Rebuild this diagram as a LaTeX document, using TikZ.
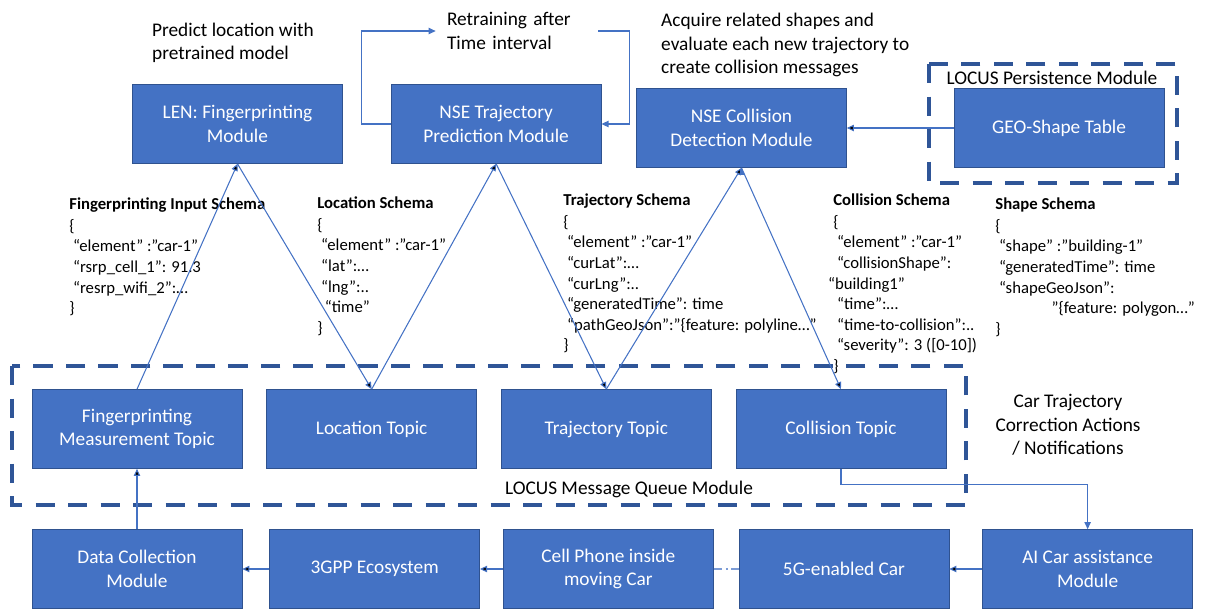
\documentclass[tikz,border=0pt]{standalone}
\usepackage{fontspec}
\setmainfont{Carlito}
\usetikzlibrary{arrows.meta, positioning}

\definecolor{boxblue}{HTML}{4472C4}
\definecolor{boxedge}{HTML}{2F528F}
\definecolor{dashblue}{HTML}{2F5597}

\tikzset{
    module/.style={draw=boxedge,
        fill=boxblue,
        text=white,
        align=center,
        minimum width=4.2cm,
        minimum height=1.58cm,
        inner sep=0,
        font=\fontsize{11}{13.4}\selectfont},
    conn/.style={draw=boxblue, line width=0.6pt,
        -{Triangle[length=4pt,width=3.6pt]}},
    groupbox/.style={draw=dashblue, line width=2.2pt,
        dash pattern=on 11pt off 7.5pt},
    note/.style={align=left, font=\fontsize{11}{13.4}\selectfont},
    schema/.style={align=left, anchor=north west, inner sep=0,
        font=\fontsize{9.5}{11.7}\selectfont}
}

\begin{document}
\begin{tikzpicture}[x=0.02cm, y=-0.02cm]
\useasboundingbox (0,0) rectangle (1211,610);

% dashed module frames
\draw[groupbox] (929,64) rectangle (1177,183);
\draw[groupbox] (12,366) rectangle (966,505);

% upper row
\node[module] (len) at (237.5,124) {LEN: Fingerprinting\\Module};
\node[module,
    right=0.96cm of len] (trajmod) {NSE Trajectory\\Prediction Module};
\node[module] (collmod) at (741.5,128) {NSE Collision\\Detection Module};
\node[module,
    right=2.14cm of collmod] (geo) {GEO-Shape Table};

% topics
\node[module] (fptopic) at (137,429) {Fingerprinting\\Measurement Topic};
\node[module,
    right=0.48cm of fptopic] (loctopic) {Location Topic};
\node[module,
    right=0.48cm of loctopic] (trajtopic) {Trajectory Topic};
\node[module,
    right=0.48cm of trajtopic] (colltopic) {Collision Topic};

% lower row
\node[module] (datacoll) at (137,569) {Data Collection\\Module};
\node[module,
    right=0.54cm of datacoll] (gpp) {3GPP Ecosystem};
\node[module,
    right=0.46cm of gpp] (phone) {Cell Phone inside\\moving Car};
\node[module,
    right=0.5cm of phone] (car) {5G-enabled Car};
\node[module,
    right=0.66cm of car] (assist) {AI Car assistance\\Module};

% notes
\node[note] (predict) at (233,43) {Predict location with\\pretrained model};
\node[note,
    text width=2.8cm,
    inner sep=0.22cm] (retrain) at (517,31) {Retraining after\\Time interval};
\node[note,
    anchor=west] (acquire) at (655,45) {Acquire related shapes and\\evaluate each new trajectory to\\create collision messages};
\node[note] (persistlbl) at (1052,78) {LOCUS Persistence Module};
\node[note] (queuelbl) at (629,489) {LOCUS Message Queue Module};
\node[note,
    align=center] (actions) at (1068,425) {Car Trajectory\\Correction Actions\\/ Notifications};

% schemas
\node[schema] (fpschema) at (69,197) {\textbf{Fingerprinting Input Schema}\\[1pt]
    \{\\~“element” :”car-1”\\~“rsrp\_cell\_1”: 91.3\\~“resrp\_wifi\_2”:…\\\}};
\node[schema] (locschema) at (317,196) {\textbf{Location Schema}\\[1pt]
    \{\\~“element” :”car-1”\\~“lat”:…\\~“lng”:..\\~~“time”\\\}};
\node[schema] (trajschema) at (563,193) {\textbf{Trajectory Schema}\\[1pt]
    \{\\~“element” :”car-1”\\~“curLat”:…\\~“curLng”:..\\~“generatedTime”: time\\
    ~“pathGeoJson”:”\{feature: polyline…”\\\}};
\node[schema] (collschema) at (833,193) {\textbf{Collision Schema}\\[1pt]
    \{\\~“element” :”car-1”\\~“collisionShape”:\\\hspace*{-3pt}“building1”\\~“time”:…\\
    ~“time-to-collision”:..\\~“severity”: 3 ([0-10])\\\}};
\node[schema] (shapeschema) at (995,197) {\textbf{Shape Schema}\\[1pt]
    \{\\~“shape” :”building-1”\\~“generatedTime”: time\\~“shapeGeoJson”:\\
    \hspace*{32pt}”\{feature: polygon…”\\\}};

% connectors
\draw[conn] (fptopic.north) edge (len.south)
    (len.south) edge (loctopic.north)
    (loctopic.north) edge (trajmod.south)
    (trajmod.south) edge (trajtopic.north)
    (trajtopic.north) edge (collmod.south)
    (collmod.south) edge (colltopic.north)
    (geo) edge (collmod)
    (datacoll) edge (fptopic)
    (assist) edge (car)
    (phone) edge (gpp)
    (gpp) edge (datacoll);
\draw[draw=boxblue!70, line width=0.6pt,
    dash pattern=on 5pt off 2pt on 1pt off 2pt] (phone) -- (car);
\draw[conn] (colltopic.south) -- ++(0,16) -| (assist.north);
\draw[conn] (trajmod.west) -- ++(-29,0) |- (retrain.west);
\draw[conn] (retrain.east) -- ++(31,0) |- (trajmod.east);

\end{tikzpicture}
\end{document}
